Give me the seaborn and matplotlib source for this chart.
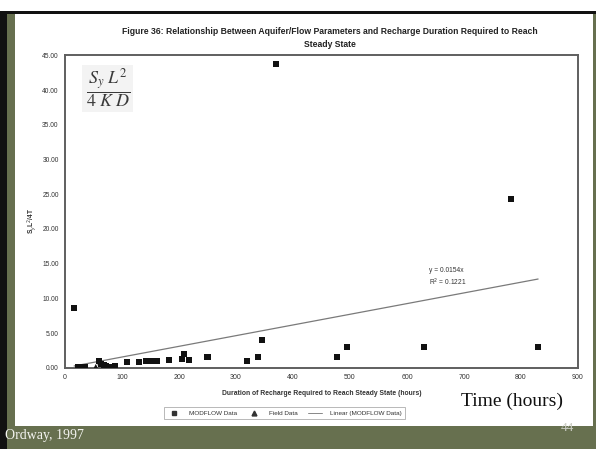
import matplotlib
matplotlib.use("Agg")
import matplotlib.pyplot as plt
from matplotlib.patches import Rectangle
from matplotlib.lines import Line2D
import seaborn as sns
import pandas as pd

# ---- data ----
modflow_x = [16, 22, 28, 35, 60, 63, 68, 72, 83, 88, 109, 129, 142, 153, 162,
             182, 206, 209, 218, 250, 319, 338, 346, 371, 478, 494, 630, 782, 830]
modflow_y = [8.6, 0.05, 0.05, 0.05, 1.0, 0.6, 0.4, 0.3, 0.05, 0.3, 0.8, 0.8, 0.9,
             1.0, 1.0, 1.1, 1.3, 2.0, 1.1, 1.5, 1.0, 1.6, 4.0, 43.8, 1.6, 3.0,
             3.0, 24.3, 3.0]
field_x = [30, 54, 62]
field_y = [0.05, 0.1, 0.8]
slope = 0.0154
r2 = 0.1221
fit_x = [16, 830]
x_ticks = [0, 100, 200, 300, 400, 500, 600, 700, 800, 900]
y_ticks = [0, 5, 10, 15, 20, 25, 30, 35, 40, 45]

title = ("Figure 36: Relationship Between Aquifer/Flow Parameters and Recharge Duration Required to Reach\n"
         "Steady State")
xlabel = "Duration of Recharge Required to Reach Steady State (hours)"
ylabel = r"S$_y$L$^2$/4T"
legend_labels = ["MODFLOW Data", "Field Data", "Linear (MODFLOW Data)"]

sns.set_style("white")
plt.rcParams["font.family"] = ["Liberation Sans", "DejaVu Sans"]

W, H = 596, 449
fig = plt.figure(figsize=(W / 100, H / 100), dpi=100, facecolor="#67704f")

def fx(px):
    return px / W

def fy(py):
    return 1 - py / H

# slide decorations (behind everything)
fig.patches.append(Rectangle((0, 0), fx(7), 1, transform=fig.transFigure,
                             facecolor="#111111", edgecolor="none", zorder=-3))
fig.patches.append(Rectangle((0, fy(11)), 1, 11 / H, transform=fig.transFigure,
                             facecolor="white", edgecolor="none", zorder=-3))
fig.patches.append(Rectangle((fx(7), fy(14)), fx(589), 3 / H, transform=fig.transFigure,
                             facecolor="#111111", edgecolor="none", zorder=-3))
fig.patches.append(Rectangle((fx(15), fy(426)), fx(578), (426 - 14) / H,
                             transform=fig.transFigure, facecolor="white",
                             edgecolor="none", zorder=-2))

ax = fig.add_axes([fx(65), fy(367.7), fx(578 - 65), (367.7 - 55.5) / H])
ax.set_facecolor("white")

df_m = pd.DataFrame({"x": modflow_x, "y": modflow_y})
df_f = pd.DataFrame({"x": field_x, "y": field_y})
df_fit = pd.DataFrame({"x": fit_x, "y": [slope * v for v in fit_x]})

sns.lineplot(data=df_fit, x="x", y="y", ax=ax, color="#7a7a7a", lw=0.9, legend=False)
sns.scatterplot(data=df_m, x="x", y="y", ax=ax, marker="s", s=19, color="#111111",
                edgecolor="none", legend=False, zorder=3)
sns.scatterplot(data=df_f, x="x", y="y", ax=ax, marker="^", s=20, color="#111111",
                edgecolor="none", legend=False, zorder=3)

ax.set_xlim(0, 900)
ax.set_ylim(0, 45)
ax.set_xticks(x_ticks)
ax.set_xticklabels([str(v) for v in x_ticks], fontsize=5, color="#333333")
ax.set_yticks(y_ticks)
ax.set_yticklabels([f"{v:.2f}" for v in y_ticks], fontsize=4.8, color="#333333")
ax.tick_params(axis="both", direction="inout", length=3, width=0.6, color="#666666", pad=3)
ax.set_xlabel("")
ax.set_ylabel("")
for sp in ax.spines.values():
    sp.set_color("#5f5f5f")
    sp.set_linewidth(1.4)

ax.text(638, 13.0, f"y = {slope}x\nR$^2$ = {r2}", fontsize=4.8, color="#333333",
        ha="left", va="center", linespacing=1.25)

fig.text(fx(330), fy(38), title, ha="center", va="center", fontsize=6.2,
         fontweight="bold", color="#222222", linespacing=1.5)
fig.text(fx(321.5), fy(393.5), xlabel, ha="center", va="center", fontsize=4.9,
         fontweight="bold", color="#333333")
fig.text(fx(32), fy(221), ylabel, ha="center", va="center", fontsize=4.8,
         fontweight="bold", rotation=90, color="#333333")

handles = [Line2D([], [], marker="s", ls="none", color="#333333", markersize=3),
           Line2D([], [], marker="^", ls="none", color="#333333", markersize=3.5),
           Line2D([], [], color="#888888", lw=0.7)]
leg = fig.legend(handles, legend_labels, loc="center", bbox_to_anchor=(fx(284.5), fy(413)),
                 ncol=3, fontsize=4.6, frameon=True, fancybox=False, edgecolor="#999999",
                 handlelength=2.2, handletextpad=1.2, columnspacing=1.6, borderpad=0.55)
leg.get_frame().set_linewidth(0.6)
for t in leg.get_texts():
    t.set_color("#333333")

# formula box
fig.patches.append(Rectangle((fx(82), fy(112)), fx(51), 47 / H, transform=fig.transFigure,
                             facecolor="#f3f3f3", edgecolor="none", zorder=5))
with plt.rc_context({"mathtext.fontset": "stix"}):
    fig.text(fx(108), fy(88), r"$\dfrac{S_y\ L^2}{4\ K\ D}$", ha="center", va="center",
             fontsize=13, color="#3a3a3a", zorder=6)

fig.text(fx(461), fy(401), "Time (hours)", ha="left", va="center", fontsize=14,
         family=["Liberation Serif", "DejaVu Serif"], color="#111111")
fig.text(fx(5), fy(436), "Ordway, 1997", ha="left", va="center", fontsize=10,
         family=["Liberation Serif", "DejaVu Serif"], color="#f4f4f0")
fig.text(fx(567), fy(428), "44", ha="center", va="center", fontsize=9.5,
         family=["Liberation Serif", "DejaVu Serif"], color="#c9cbc2", zorder=-1)

fig.savefig("out.png", dpi=100, facecolor=fig.get_facecolor())
